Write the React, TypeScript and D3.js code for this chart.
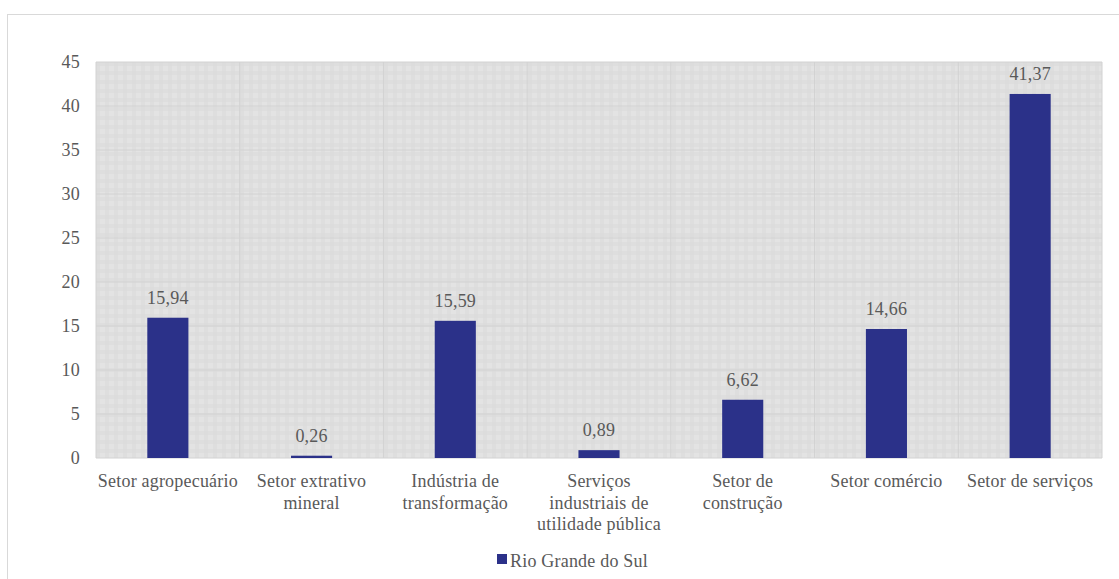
import React from "react";
import * as d3 from "d3";

const categories: string[][] = [
  ["Setor agropecuário"],
  ["Setor extrativo", "mineral"],
  ["Indústria de", "transformação"],
  ["Serviços", "industriais de", "utilidade pública"],
  ["Setor de", "construção"],
  ["Setor comércio"],
  ["Setor de serviços"],
];
const values: number[] = [15.94, 0.26, 15.59, 0.89, 6.62, 14.66, 41.37];
const valueLabels: string[] = ["15,94", "0,26", "15,59", "0,89", "6,62", "14,66", "41,37"];
const yTicks: number[] = [0, 5, 10, 15, 20, 25, 30, 35, 40, 45];
const seriesName = "Rio Grande do Sul";

const W = 1119;
const H = 579;
const left = 96;
const right = 1102;
const top = 62;
const bottom = 458;
const barColor = "#2B3189";
const font = "'Liberation Serif', 'Times New Roman', serif";
const textColor = "#595959";
const fs = 18;
const ls = 0.2;

export default function App() {
  const x = d3
    .scaleBand<number>()
    .domain(d3.range(values.length))
    .range([left, right])
    .paddingInner(0.714)
    .paddingOuter(0.357);
  const xCat = d3.scaleBand<number>().domain(d3.range(values.length)).range([left, right]);
  const y = d3.scaleLinear().domain([0, 45]).range([bottom, top]);

  return (
    <svg
      width={W}
      height={H}
      style={{ position: "absolute", left: 0, top: 0, background: "#fff" }}
    >
      <defs>
        <pattern id="plaid" width={9} height={9} patternUnits="userSpaceOnUse" x={left} y={top}>
          <rect width={9} height={9} fill="#e3e3e3" />
          <rect width={4} height={9} fill="#dcdcdc" opacity={0.7} />
          <rect width={9} height={4} fill="#dcdcdc" opacity={0.7} />
        </pattern>
      </defs>
      <rect x={7.5} y={14.5} width={W} height={H} fill="none" stroke="#d9d9d9" strokeWidth={1} />
      <rect x={left} y={top} width={right - left} height={bottom - top} fill="url(#plaid)" />
      {yTicks.map((t) => (
        <line key={"g" + t} x1={left} x2={right} y1={y(t)} y2={y(t)} stroke="#d2d2d2" strokeWidth={1} />
      ))}
      {d3.range(values.length + 1).map((i) => {
        const xx = i < values.length ? (xCat(i) as number) : right;
        return <line key={"v" + i} x1={xx} x2={xx} y1={top} y2={bottom} stroke="#d2d2d2" strokeWidth={1} />;
      })}
      {yTicks.map((t) => (
        <text
          key={"t" + t}
          x={80}
          y={y(t)}
          dy="0.35em"
          textAnchor="end"
          fontFamily={font}
          fontSize={fs}
          letterSpacing={ls}
          fill={textColor}
        >
          {t}
        </text>
      ))}
      {values.map((v, i) => (
        <rect
          key={"b" + i}
          x={x(i)}
          y={y(v)}
          width={x.bandwidth()}
          height={bottom - y(v)}
          fill={barColor}
        />
      ))}
      {values.map((v, i) => (
        <text
          key={"l" + i}
          x={(x(i) as number) + x.bandwidth() / 2}
          y={y(v) - 14}
          textAnchor="middle"
          fontFamily={font}
          fontSize={fs}
          letterSpacing={ls}
          fill={textColor}
        >
          {valueLabels[i]}
        </text>
      ))}
      {categories.map((lines, i) => (
        <text
          key={"c" + i}
          x={(xCat(i) as number) + xCat.bandwidth() / 2}
          y={487}
          textAnchor="middle"
          fontFamily={font}
          fontSize={fs}
          letterSpacing={ls}
          fill={textColor}
        >
          {lines.map((ln, j) => (
            <tspan key={j} x={(xCat(i) as number) + xCat.bandwidth() / 2} dy={j === 0 ? 0 : 21.5}>
              {ln}
            </tspan>
          ))}
        </text>
      ))}
      <rect x={497} y={554} width={10} height={10} fill={barColor} />
      <text x={510} y={567} fontFamily={font} fontSize={fs} letterSpacing={ls} fill={textColor}>
        {seriesName}
      </text>
    </svg>
  );
}
